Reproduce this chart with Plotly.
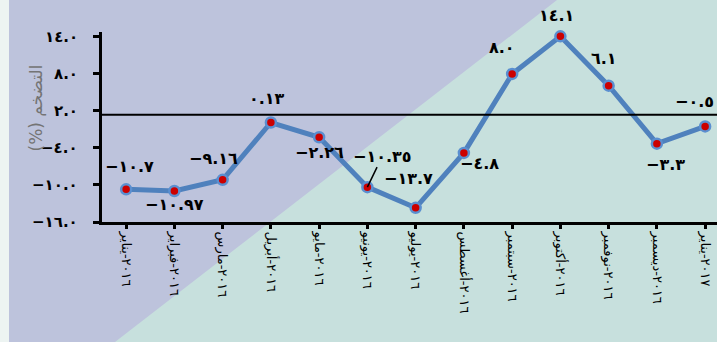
import plotly.graph_objects as go

# 月ラベル (アラビア語) と年
months = ["يناير", "فبراير", "مارس", "أبريل", "مايو", "يونيو", "يوليو",
          "أغسطس", "سبتمبر", "أكتوبر", "نوفمبر", "ديسمبر", "يناير"]
years = ["٢٠١٦"] * 12 + ["٢٠١٧"]
inflation = [-10.7, -10.97, -9.16, 0.13, -2.26, -10.35, -13.7, -4.8, 8.0, 14.1, 6.1, -3.3, -0.5]
value_labels = ["−١٠.٧", "−١٠.٩٧", "−٩.١٦", "٠.١٣", "−٢.٢٦", "−١٠.٣٥", "−١٣.٧",
                "−٤.٨", "٨.٠", "١٤.١", "٦.١", "−٣.٣", "−٠.٥"]
y_tickvals = [-16, -10, -4, 2, 8, 14]
y_ticktext = ["−١٦.٠", "−١٠.٠", "−٤.٠", "٢.٠", "٨.٠", "١٤.٠"]
ref_line = 1.4

# LRM so the month stays on the left of the year
categories = [f"{m}\u200e-{y}" for m, y in zip(months, years)]

# label offsets in px (dx, dy)
label_offsets = [(3, -23), (0, 14), (-9, -21), (-4, -24), (0, 15), (15, -31), (-7, -29),
                 (16, 11), (-10, -26), (-4, -21), (-5, -27), (9, 21), (-11, -25)]

W, H = 717, 342
ML, MR, MT, MB = 102, 0, 32, 120
PW, PH = W - ML - MR, H - MT - MB

def px(x):
    return (x - ML) / PW

def py(y):
    return (H - MB - y) / PH

LAVENDER = "#bdc3dc"
TEAL = "#c7e0dd"
STRIP = "#edf4f2"
LINE_BLUE = "#4f81bd"
LABEL_FONT = dict(family="DejaVu Sans", size=16, color="black", weight="bold")
TICK_FONT = dict(family="DejaVu Sans", size=15, color="black", weight="bold")

fig = go.Figure()
fig.add_trace(go.Scatter(
    x=categories, y=inflation, mode="lines+markers",
    line=dict(color=LINE_BLUE, width=5),
    marker=dict(size=10, color="#cc0000", line=dict(color="#5b8fd0", width=2.5)),
    showlegend=False, cliponaxis=False, hoverinfo="skip"))

for i, (c, v, t) in enumerate(zip(categories, inflation, value_labels)):
    dx, dy = label_offsets[i]
    if i == 5:
        fig.add_annotation(x=c, y=v, text=t, showarrow=True, arrowhead=0, arrowwidth=1.5,
                           arrowcolor="black", ax=dx, ay=dy, font=LABEL_FONT)
    else:
        fig.add_annotation(x=c, y=v, text=t, showarrow=False, xshift=dx, yshift=-dy, font=LABEL_FONT)

# y tick labels (right aligned next to the ticks)
for v, t in zip(y_tickvals, y_ticktext):
    fig.add_annotation(xref="paper", yref="y", x=px(80), y=v, text=t, showarrow=False,
                       xanchor="right", font=TICK_FONT)

# 背景
shapes = [
    dict(type="rect", xref="paper", yref="paper", x0=px(0), x1=px(9), y0=py(H), y1=py(0),
         fillcolor=STRIP, line=dict(width=0), layer="below"),
    dict(type="path", xref="paper", yref="paper",
         path=f"M {px(9)} {py(0)} L {px(557)} {py(0)} L {px(115)} {py(H)} L {px(9)} {py(H)} Z",
         fillcolor=LAVENDER, line=dict(width=0), layer="below"),
    dict(type="line", xref="paper", yref="y", x0=0, x1=1, y0=ref_line, y1=ref_line,
         line=dict(color="black", width=2)),
]

fig.add_annotation(xref="paper", yref="paper", x=px(23), y=py(108), text="(%) التضخم",
                   textangle=-90, showarrow=False,
                   font=dict(family="DejaVu Sans", size=17, color="#747474"))

fig.update_layout(
    width=W, height=H, margin=dict(l=ML, r=MR, t=MT, b=MB),
    paper_bgcolor=TEAL, plot_bgcolor="rgba(0,0,0,0)",
    shapes=shapes,
    xaxis=dict(type="category", range=[-0.5, -0.5 + PW / 48.25], showgrid=False, zeroline=False,
               showline=True, linecolor="black", linewidth=3,
               ticks="outside", ticklen=4, tickwidth=3, tickcolor="black", tickangle=90,
               tickfont=dict(family="DejaVu Sans", size=13, color="black")),
    yaxis=dict(range=[-16, 14.8], showgrid=False, zeroline=False,
               showline=True, linecolor="black", linewidth=3,
               tickvals=y_tickvals, showticklabels=False,
               ticks="outside", ticklen=6, tickwidth=3, tickcolor="black"),
)

fig.write_html("out.html", config={"displayModeBar": False},
               post_script="document.body.style.margin='0';")
